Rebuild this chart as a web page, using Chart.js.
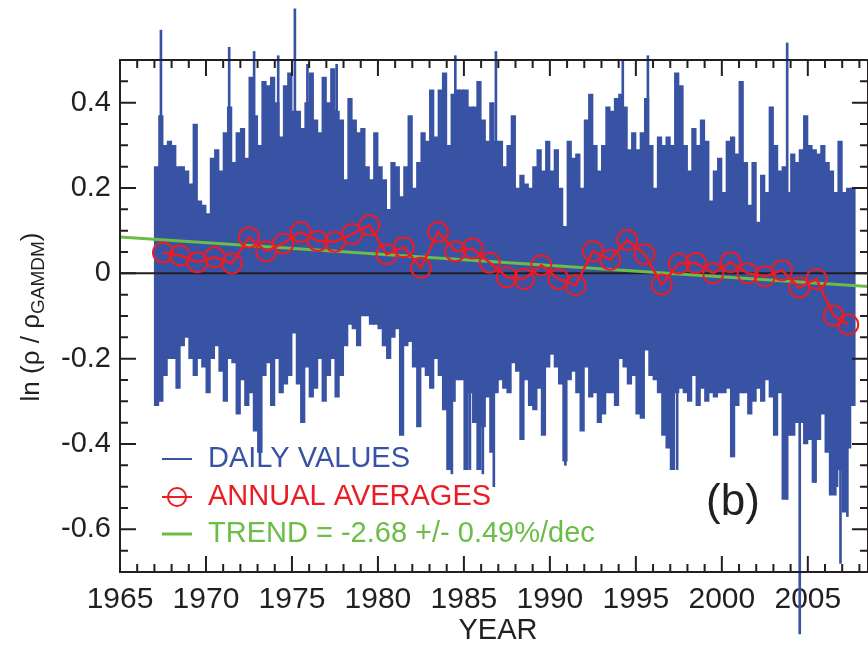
<!DOCTYPE html>
<html>
<head>
<meta charset="utf-8">
<script src="https://cdn.jsdelivr.net/npm/chart.js@4.4.1/dist/chart.umd.min.js"></script>
<style>
  html, body { margin: 0; padding: 0; background: #fff; }
  #wrap { width: 868px; height: 646px; }
</style>
</head>
<body>
<div id="wrap"><canvas id="chart" width="868" height="646"></canvas></div>
<script>
// Dane odczytane z rysunku
// daily values: envelope per quarter year, starting 1967.0
const dailyStart = 1967.0;
const dailyStep = 0.25;
const dailyHigh = [
  0.25, 0.37, 0.30, 0.31, 0.30, 0.25, 0.25, 0.24, 0.21, 0.35,
  0.17, 0.16, 0.14, 0.27, 0.29, 0.24, 0.33, 0.39, 0.26, 0.33,
  0.34, 0.27, 0.46, 0.37, 0.30, 0.45, 0.44, 0.46, 0.40, 0.32,
  0.44, 0.47, 0.38, 0.38, 0.34, 0.40, 0.47, 0.36, 0.33, 0.46,
  0.40, 0.48, 0.38, 0.36, 0.22, 0.41, 0.36, 0.33, 0.34, 0.25,
  0.22, 0.33, 0.25, 0.22, 0.15, 0.26, 0.25, 0.18, 0.25, 0.37,
  0.20, 0.26, 0.33, 0.31, 0.43, 0.32, 0.43, 0.47, 0.30, 0.42,
  0.43, 0.43, 0.43, 0.39, 0.39, 0.45, 0.36, 0.31, 0.40, 0.31,
  0.31, 0.25, 0.30, 0.37, 0.20, 0.23, 0.21, 0.20, 0.25, 0.29,
  0.24, 0.31, 0.24, 0.29, 0.20, 0.11, 0.31, 0.27, 0.28, 0.20,
  0.36, 0.42, 0.30, 0.24, 0.30, 0.39, 0.38, 0.41, 0.42, 0.39,
  0.29, 0.33, 0.29, 0.33, 0.41, 0.30, 0.20, 0.32, 0.30, 0.32,
  0.30, 0.47, 0.44, 0.30, 0.24, 0.34, 0.30, 0.36, 0.31, 0.17,
  0.24, 0.27, 0.19, 0.31, 0.32, 0.28, 0.45, 0.26, 0.16, 0.26,
  0.12, 0.23, 0.19, 0.39, 0.30, 0.24, 0.25, 0.19, 0.28, 0.26,
  0.29, 0.37, 0.30, 0.29, 0.28, 0.30, 0.26, 0.24, 0.19, 0.31,
  0.19, 0.20, 0.20
];
const dailyLow = [
  -0.31, -0.30, -0.24, -0.20, -0.20, -0.27, -0.17, -0.15, -0.20, -0.24,
  -0.20, -0.22, -0.28, -0.20, -0.17, -0.23, -0.30, -0.20, -0.21, -0.33,
  -0.25, -0.31, -0.28, -0.37, -0.42, -0.24, -0.21, -0.31, -0.20, -0.28,
  -0.26, -0.24, -0.14, -0.26, -0.35, -0.22, -0.29, -0.27, -0.20, -0.30,
  -0.24, -0.20, -0.29, -0.24, -0.17, -0.12, -0.13, -0.17, -0.10, -0.10,
  -0.12, -0.12, -0.13, -0.17, -0.20, -0.15, -0.13, -0.38, -0.17, -0.16,
  -0.22, -0.36, -0.22, -0.24, -0.27, -0.20, -0.24, -0.32, -0.46, -0.30,
  -0.25, -0.25, -0.46, -0.28, -0.35, -0.46, -0.36, -0.29, -0.42, -0.28,
  -0.25, -0.27, -0.28, -0.21, -0.23, -0.39, -0.25, -0.31, -0.32, -0.27,
  -0.38, -0.22, -0.19, -0.22, -0.26, -0.44, -0.25, -0.23, -0.28, -0.37,
  -0.22, -0.29, -0.28, -0.35, -0.33, -0.28, -0.28, -0.31, -0.20, -0.22,
  -0.26, -0.24, -0.33, -0.34, -0.18, -0.24, -0.25, -0.28, -0.38, -0.41,
  -0.46, -0.28, -0.27, -0.28, -0.30, -0.24, -0.31, -0.27, -0.30, -0.28,
  -0.29, -0.28, -0.28, -0.27, -0.43, -0.31, -0.28, -0.28, -0.33, -0.30,
  -0.27, -0.30, -0.25, -0.29, -0.38, -0.28, -0.53, -0.38, -0.38, -0.35,
  -0.35, -0.40, -0.39, -0.49, -0.39, -0.33, -0.42, -0.52, -0.50, -0.46,
  -0.56, -0.41, -0.31
];
// single daily extremes that stick out of the envelope
const spikeYears = [1967.38, 1971.35, 1972.8, 1974.2, 1975.17, 1975.9, 1977.6, 1984.5, 1986.86,
  1994.24, 1995.7, 2003.8,
  1973.2, 1984.3, 1985.35, 1986.1, 1986.74, 1990.9, 1997.4, 2000.6, 2003.8, 2004.53, 2005.4, 2006.6, 2006.9, 2007.3];
const spikeValues = [0.57, 0.53, 0.52, 0.51, 0.62, 0.49, 0.49, 0.51, 0.52,
  0.50, 0.51, 0.54,
  -0.42, -0.47, -0.46, -0.47, -0.50, -0.45, -0.46, -0.43, -0.53, -0.845, -0.49, -0.52, -0.68, -0.57];

const annualYears = [1967.5, 1968.5, 1969.5, 1970.5, 1971.5, 1972.5, 1973.5, 1974.5, 1975.5, 1976.5,
  1977.5, 1978.5, 1979.5, 1980.5, 1981.5, 1982.5, 1983.5, 1984.5, 1985.5, 1986.5,
  1987.5, 1988.5, 1989.5, 1990.5, 1991.5, 1992.5, 1993.5, 1994.5, 1995.5, 1996.5,
  1997.5, 1998.5, 1999.5, 2000.5, 2001.5, 2002.5, 2003.5, 2004.5, 2005.5, 2006.5, 2007.35];
const annualValues = [0.049, 0.042, 0.026, 0.038, 0.023, 0.084, 0.052, 0.070, 0.097, 0.076,
  0.074, 0.092, 0.113, 0.045, 0.061, 0.013, 0.097, 0.052, 0.058, 0.025,
  -0.009, -0.013, 0.019, -0.013, -0.028, 0.052, 0.032, 0.078, 0.045, -0.026,
  0.023, 0.024, 0.000, 0.026, 0.000, -0.007, 0.007, -0.033, -0.013, -0.099, -0.120];

const trendYears = [1965, 2008.5];
const trendValues = [0.085, -0.031];

const xTicks = [1965, 1970, 1975, 1980, 1985, 1990, 1995, 2000, 2005];
const yTicks = [-0.6, -0.4, -0.2, 0, 0.2, 0.4];
const legendLabels = ['DAILY VALUES', 'ANNUAL AVERAGES', 'TREND = -2.68 +/- 0.49%/dec'];

// Kolory i czcionka
const BLUE = '#3953a4';
const RED = '#ec1c24';
const GREEN = '#6abd45';
const INK = '#231f20';
const FONT = "'Liberation Sans', Arial, Helvetica, sans-serif";

// Ramka, ticki do środka, legenda i opisy osi
const framePlugin = {
    id: 'frame',
    beforeDraw(chart) {
        const ctx = chart.ctx;
        ctx.save();
        ctx.fillStyle = '#fff';
        ctx.fillRect(0, 0, chart.width, chart.height);
        ctx.restore();
    },
    afterDraw(chart) {
        const { ctx, chartArea: a, scales: { x, y } } = chart;
        ctx.save();
        ctx.strokeStyle = INK;
        ctx.lineWidth = 2;
        ctx.strokeRect(a.left, a.top, a.right - a.left, a.bottom - a.top);

        ctx.beginPath();
        for (let yr = 1965; yr <= 2008; yr++) {
            const px = x.getPixelForValue(yr);
            const len = yr % 5 === 0 ? 16 : 8;
            ctx.moveTo(px, a.bottom); ctx.lineTo(px, a.bottom - len);
            ctx.moveTo(px, a.top); ctx.lineTo(px, a.top + len);
        }
        for (let k = -14; k <= 10; k++) {
            const py = y.getPixelForValue(k * 0.05);
            const len = k % 4 === 0 ? 16 : 8;
            ctx.moveTo(a.left, py); ctx.lineTo(a.left + len, py);
            ctx.moveTo(a.right, py); ctx.lineTo(a.right - len, py);
        }
        ctx.stroke();

        // legenda
        const colors = [BLUE, RED, GREEN];
        const rowsY = [459, 497, 534];
        ctx.font = '29px ' + FONT;
        ctx.textBaseline = 'middle';
        ctx.textAlign = 'left';
        legendLabels.forEach((label, i) => {
            ctx.strokeStyle = colors[i];
            ctx.lineWidth = i === 2 ? 3 : 2;
            ctx.beginPath();
            ctx.moveTo(162, rowsY[i]);
            ctx.lineTo(192, rowsY[i]);
            ctx.stroke();
            if (i === 1) {
                ctx.beginPath();
                ctx.arc(177, rowsY[i], 9, 0, Math.PI * 2);
                ctx.stroke();
            }
            ctx.fillStyle = colors[i];
            ctx.fillText(label, 208, rowsY[i]);
        });

        // (b)
        ctx.fillStyle = INK;
        ctx.textAlign = 'center';
        ctx.font = '44px ' + FONT;
        ctx.fillText('(b)', 733, 503);

        // YEAR
        ctx.font = '29px ' + FONT;
        ctx.fillText('YEAR', 498, 631);

        // tytuł osi Y: ln (ρ / ρ_GAMDM)
        ctx.translate(39, 317);
        ctx.rotate(-Math.PI / 2);
        ctx.textAlign = 'left';
        ctx.textBaseline = 'alphabetic';
        const mainFont = '26px ' + FONT;
        const subFont = '19px ' + FONT;
        const parts = [
            { t: 'ln (\u03c1 / \u03c1', f: mainFont, dy: 0 },
            { t: 'GAMDM', f: subFont, dy: 5 },
            { t: ')', f: mainFont, dy: 0 }
        ];
        let total = 0;
        parts.forEach(p => { ctx.font = p.f; p.w = ctx.measureText(p.t).width; total += p.w; });
        let cx = -total / 2;
        parts.forEach(p => {
            ctx.font = p.f;
            ctx.fillText(p.t, cx, p.dy);
            cx += p.w;
        });
        ctx.restore();
    }
};

new Chart(document.getElementById('chart').getContext('2d'), {
    type: 'bar',
    data: {
        datasets: [
            {
                type: 'line',
                label: 'ANNUAL AVERAGES',
                data: annualYears.map((t, i) => ({ x: t, y: annualValues[i] })),
                borderColor: RED,
                borderWidth: 2.5,
                pointRadius: 10,
                pointBorderWidth: 2,
                pointBorderColor: RED,
                pointBackgroundColor: 'rgba(0,0,0,0)',
                tension: 0,
                clip: false,
                order: 0
            },
            {
                type: 'line',
                label: 'TREND',
                data: trendYears.map((t, i) => ({ x: t, y: trendValues[i] })),
                borderColor: GREEN,
                borderWidth: 3,
                pointRadius: 0,
                order: 1
            },
            {
                type: 'line',
                label: 'zero',
                data: trendYears.map(t => ({ x: t, y: 0 })),
                borderColor: INK,
                borderWidth: 2,
                pointRadius: 0,
                order: 2
            },
            {
                type: 'bar',
                label: 'spikes',
                data: spikeYears.map((t, i) => ({ x: t, y: [0, spikeValues[i]] })),
                backgroundColor: BLUE,
                barThickness: 2,
                grouped: false,
                clip: false,
                order: 3
            },
            {
                type: 'bar',
                label: 'DAILY VALUES',
                data: dailyHigh.map((h, i) => ({ x: dailyStart + dailyStep * (i + 0.5), y: [dailyLow[i], h] })),
                backgroundColor: BLUE,
                barThickness: 4.6,
                grouped: false,
                order: 4
            }
        ]
    },
    options: {
        responsive: false,
        animation: false,
        devicePixelRatio: 1,
        layout: { autoPadding: false, padding: { top: 60, right: 0, left: 0, bottom: 0 } },
        plugins: {
            legend: { display: false },
            tooltip: { enabled: false }
        },
        scales: {
            x: {
                type: 'linear',
                offset: false,
                min: 1965,
                max: 2008.5,
                grid: { display: false, drawTicks: false },
                border: { display: false },
                afterBuildTicks: s => { s.ticks = xTicks.map(v => ({ value: v })); },
                ticks: {
                    autoSkip: false,
                    maxRotation: 0,
                    padding: 10,
                    color: INK,
                    font: { family: FONT, size: 30 },
                    callback: v => String(v)
                },
                afterFit: s => { s.height = 74; s.paddingLeft = 0; s.paddingRight = 0; }
            },
            y: {
                type: 'linear',
                min: -0.7,
                max: 0.5,
                grid: { display: false, drawTicks: false },
                border: { display: false },
                afterBuildTicks: s => { s.ticks = yTicks.map(v => ({ value: v })); },
                ticks: {
                    padding: 9,
                    color: INK,
                    font: { family: FONT, size: 29 },
                    callback: v => String(v)
                },
                afterFit: s => { s.width = 120; s.paddingTop = 0; s.paddingBottom = 0; }
            }
        }
    },
    plugins: [framePlugin]
});
</script>
</body>
</html>
